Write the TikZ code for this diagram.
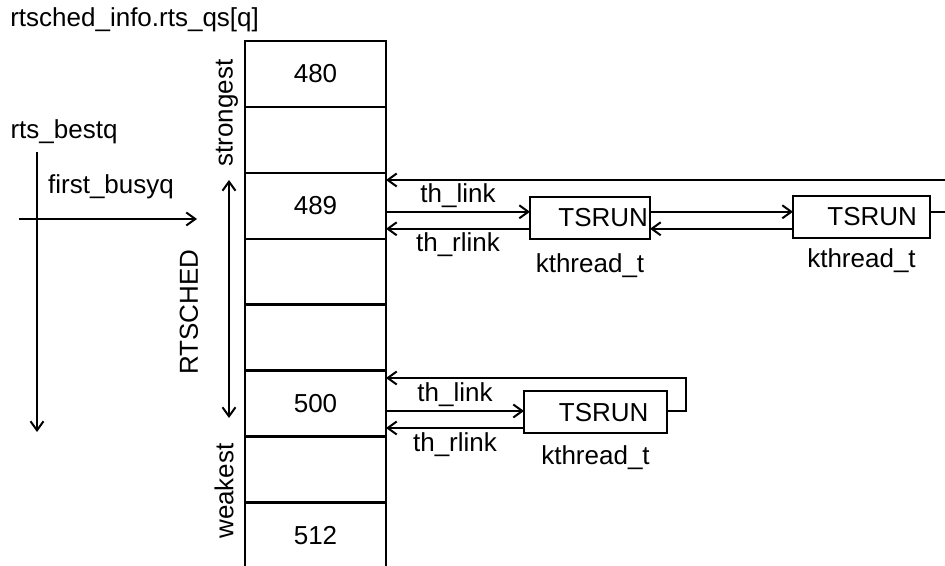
\documentclass[tikz,border=0pt]{standalone}
\usepackage{fontspec}
\setmainfont{Liberation Sans}
\usetikzlibrary{positioning,arrows.meta}

\begin{document}
\begin{tikzpicture}[x=1pt, y=1pt, line width=2pt, node distance=0pt,
  every node/.style={font=\fontsize{26}{30}\selectfont},
  qcell/.style={draw, line width=2.4pt, minimum width=141pt, minimum height=65.9pt, inner sep=0pt, outer sep=0pt},
  tbox/.style={draw, minimum height=42pt, inner sep=0pt, outer sep=0pt, align=right},
  arr/.style={-{Straight Barb[length=9pt,width=13pt]}},
  darr/.style={{Straight Barb[length=9pt,width=13pt]}-{Straight Barb[length=9pt,width=13pt]}}]
  \useasboundingbox (0,0) rectangle (945,565);

  % the queue array
  \node[anchor=west] (title) at (6,545) {rtsched\_info.rts\_qs[q]};
  \node[qcell] (q480) at (315.5,491) {480};
  \node[qcell, below=of q480] (qa) {};
  \node[qcell, below=of qa] (q489) {489};
  \node[qcell, below=of q489] (qb) {};
  \node[qcell, below=of qb] (qc) {};
  \node[qcell, below=of qc] (q500) {500};
  \node[qcell, below=of q500] (qd) {};
  \node[qcell, below=of qd] (q512) {512};

  % priority labels on the left
  \node[rotate=90] (strong) at (227,452) {strongest};
  \node[rotate=90] (weak) at (224,74) {weakest};
  \node[rotate=90] (rtsched) at (189,253) {RTSCHED};
  \coordinate (rtop) at (229,385);
  \coordinate (rbot) at (229,147);
  \draw[darr] (rtop) -- (rbot);

  \node (bestq) at (64,433) {rts\_bestq};
  \coordinate (btop) at (37,413);
  \coordinate (bbot) at (37,133);
  \draw[arr] (btop) -- (bbot);
  \node (busyq) at (111,378) {first\_busyq};
  \coordinate (fleft) at (19,346);
  \coordinate (fright) at (197,346);
  \draw[arr] (fleft) -- (fright);

  % threads
  \node[tbox, minimum width=120pt, text width=116pt] (t1) at (590,347) {TSRUN};
  \node[tbox, minimum width=137pt, text width=111pt] (t2) at (861.5,348) {TSRUN};
  \node[tbox, minimum width=143pt, text width=106pt] (t3) at (595.5,152.5) {TSRUN};
  \node[below=10pt of t1] (k1) {kthread\_t};
  \node[below=6pt of t2] (k2) {kthread\_t};
  \node[below=8pt of t3] (k3) {kthread\_t};

  % queue 489
  \draw[arr] ([yshift=-6pt]q489.east) -- ([yshift=-6pt]q489.east -| t1.west) node[midway, above] {th\_link};
  \draw[arr] ([yshift=-23pt]q489.east -| t1.west) -- ([yshift=-23pt]q489.east) node[midway, below] {th\_rlink};
  \draw[arr] ([yshift=-6pt]q489.east -| t1.east) -- ([yshift=-6pt]q489.east -| t2.west);
  \draw[arr] ([yshift=-23pt]q489.east -| t2.west) -- ([yshift=-23pt]q489.east -| t1.east);
  \coordinate (edgeout) at (945,353);
  \coordinate (edgein) at (945,385);
  \draw (edgeout -| t2.east) -- (edgeout);
  \draw[arr] (edgein) -- (edgein -| q489.east);

  % queue 500
  \coordinate (loop3) at (686,187);
  \draw[arr] ([yshift=-7.5pt]q500.east) -- ([yshift=-7.5pt]q500.east -| t3.west) node[midway, above] {th\_link};
  \draw[arr] ([yshift=-24.5pt]q500.east -| t3.west) -- ([yshift=-24.5pt]q500.east) node[midway, below] {th\_rlink};
  \draw[arr] ([yshift=-7.5pt]q500.east -| t3.east) -- ([yshift=-7.5pt]q500.east -| loop3) -- (loop3) -- (loop3 -| q500.east);
\end{tikzpicture}
\end{document}
